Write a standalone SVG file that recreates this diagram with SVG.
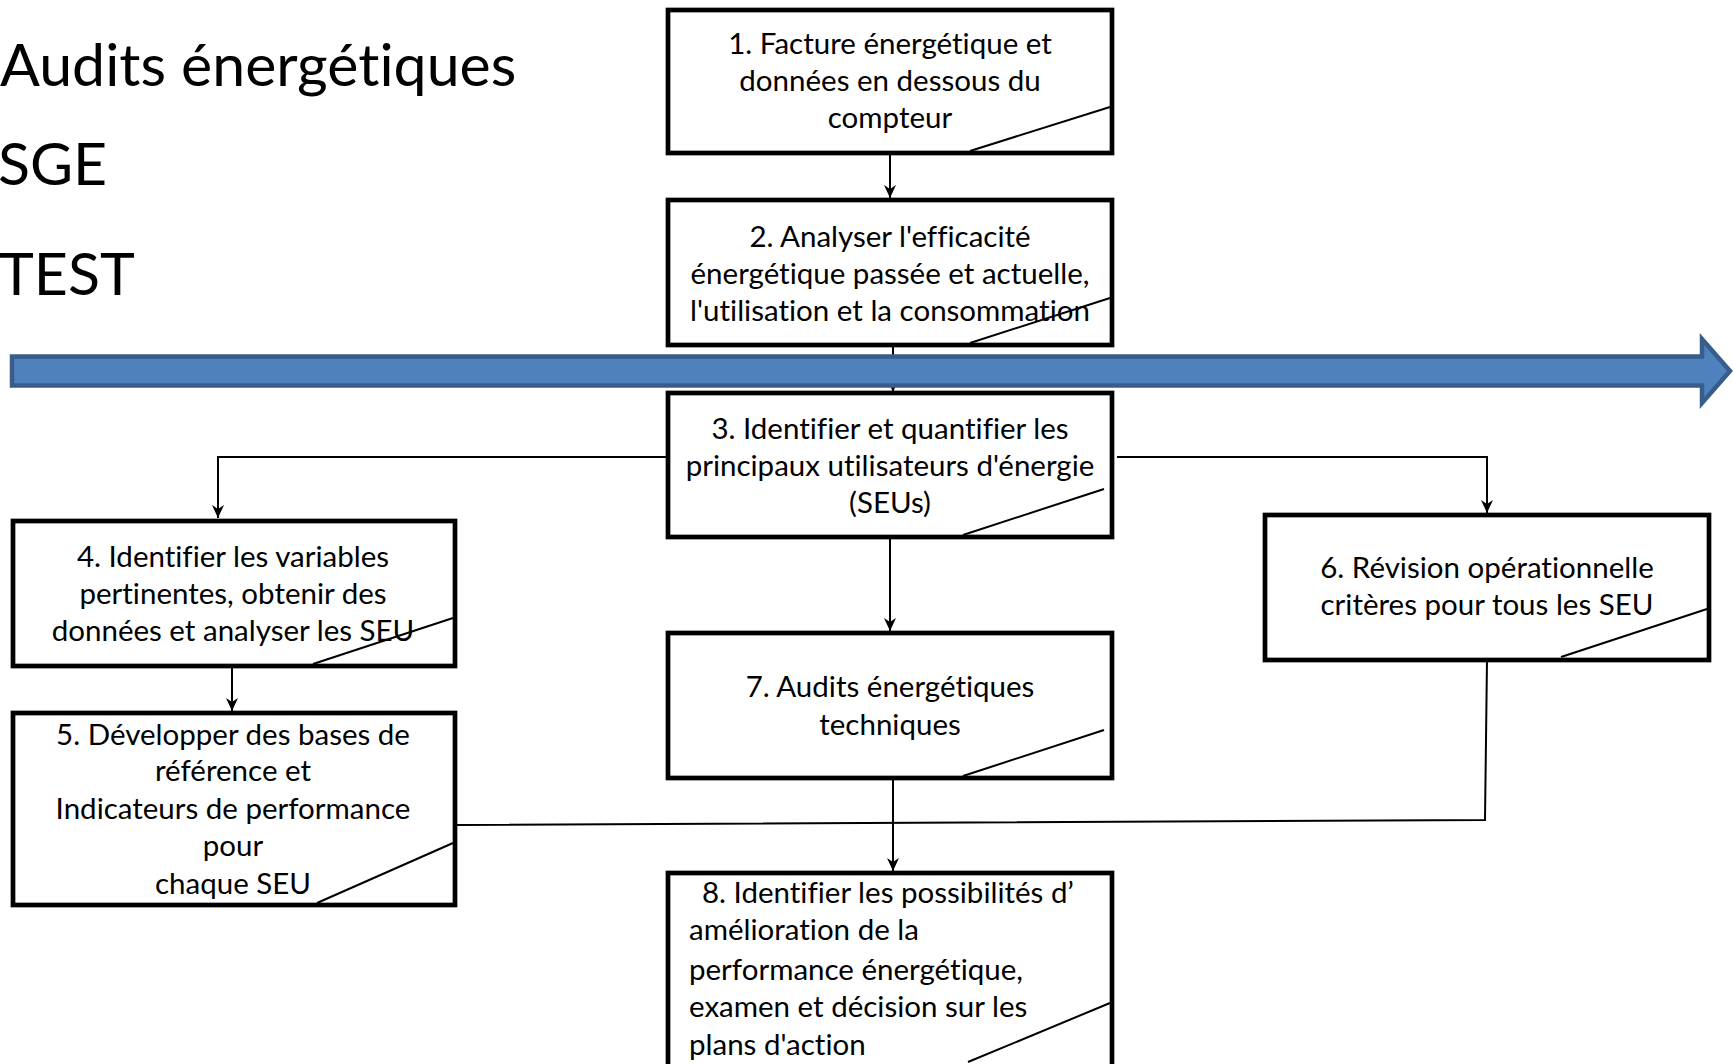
<svg xmlns="http://www.w3.org/2000/svg" width="1734" height="1064" viewBox="0 0 1734 1064">
<style>
  .box { fill: #ffffff; stroke: #000000; stroke-width: 4.7; }
  .diag { fill: none; stroke: #000000; stroke-width: 2; }
  .conn { fill: none; stroke: #000000; stroke-width: 2; }
  .t { font-family: Lato, "Liberation Sans", sans-serif; font-size: 29.5px; fill: #000000; font-variant-ligatures: none; }
  .c { text-anchor: middle; }
  .title { font-family: Lato, "Liberation Sans", sans-serif; font-size: 59px; fill: #000000; font-variant-ligatures: none; }
</style>
<defs>
  <marker id="arr" viewBox="-14 -7 15 14" refX="0" refY="0" markerWidth="15" markerHeight="14" markerUnits="userSpaceOnUse" orient="auto">
    <path d="M0,0 L-13,-6 L-9,0 L-13,6 Z" fill="#000000"/>
  </marker>
</defs>
<rect x="0" y="0" width="1734" height="1064" fill="#ffffff"/>

<g id="titles">
  <text class="title" x="0" y="86">Audits énergétiques</text>
  <text class="title" x="-2" y="185">SGE</text>
  <text class="title" x="-1" y="295">TEST</text>
</g>

<g id="connectors">
  <line class="conn" x1="890" y1="153" x2="890" y2="198" marker-end="url(#arr)"/>
  <line class="conn" x1="893" y1="345" x2="893" y2="392" marker-end="url(#arr)"/>
  <polyline class="conn" points="667,457 218,457 218,518" marker-end="url(#arr)"/>
  <polyline class="conn" points="1117,457 1487,457 1487,513" marker-end="url(#arr)"/>
  <line class="conn" x1="890" y1="537" x2="890" y2="631" marker-end="url(#arr)"/>
  <line class="conn" x1="232" y1="666" x2="232" y2="711" marker-end="url(#arr)"/>
  <line class="conn" x1="893" y1="778" x2="893" y2="871" marker-end="url(#arr)"/>
  <polyline class="conn" points="455,825 1485,820 1487,660"/>
</g>

<g id="timeline">
  <polygon points="12,356.5 1702,356.5 1702,339 1730,371 1702,403 1702,385.5 12,385.5" fill="#4f81bd" stroke="#385d8a" stroke-width="4.5" stroke-linejoin="miter"/>
</g>

<g id="node1">
  <rect class="box" x="668" y="10" width="444" height="143"/>
  <line class="diag" x1="970" y1="151" x2="1110" y2="107"/>
  <text class="t c" x="890" y="54">1. Facture énergétique et</text>
  <text class="t c" x="890" y="91">données en dessous du</text>
  <text class="t c" x="890" y="128">compteur</text>
</g>

<g id="node2">
  <rect class="box" x="668" y="200" width="444" height="145"/>
  <line class="diag" x1="970" y1="343" x2="1110" y2="298"/>
  <text class="t c" x="890" y="247">2. Analyser l'efficacité</text>
  <text class="t c" x="890" y="284">énergétique passée et actuelle,</text>
  <text class="t c" x="890" y="321">l'utilisation et la consommation</text>
</g>

<g id="node3">
  <rect class="box" x="668" y="393" width="444" height="144"/>
  <line class="diag" x1="963" y1="535" x2="1104" y2="489"/>
  <text class="t c" x="890" y="439">3. Identifier et quantifier les</text>
  <text class="t c" x="890" y="476">principaux utilisateurs d'énergie</text>
  <text class="t c" x="890" y="513">(SEUs)</text>
</g>

<g id="node4">
  <rect class="box" x="13" y="521" width="442" height="145"/>
  <line class="diag" x1="313" y1="664" x2="453" y2="618"/>
  <text class="t c" x="233" y="567">4. Identifier les variables</text>
  <text class="t c" x="233" y="604">pertinentes, obtenir des</text>
  <text class="t c" x="233" y="641">données et analyser les SEU</text>
</g>

<g id="node5">
  <rect class="box" x="13" y="713" width="442" height="192"/>
  <line class="diag" x1="317" y1="903" x2="453" y2="843"/>
  <text class="t c" x="233" y="745">5. Développer des bases de</text>
  <text class="t c" x="233" y="781">référence et</text>
  <text class="t c" x="233" y="819">Indicateurs de performance</text>
  <text class="t c" x="233" y="856">pour</text>
  <text class="t c" x="233" y="894">chaque SEU</text>
</g>

<g id="node6">
  <rect class="box" x="1265" y="515" width="444" height="145"/>
  <line class="diag" x1="1561" y1="657" x2="1707" y2="609"/>
  <text class="t c" x="1487" y="578">6. Révision opérationnelle</text>
  <text class="t c" x="1487" y="615">critères pour tous les SEU</text>
</g>

<g id="node7">
  <rect class="box" x="668" y="633" width="444" height="145"/>
  <line class="diag" x1="963" y1="776" x2="1104" y2="730"/>
  <text class="t c" x="890" y="697">7. Audits énergétiques</text>
  <text class="t c" x="890" y="735">techniques</text>
</g>

<g id="node8">
  <rect class="box" x="668" y="873" width="444" height="200"/>
  <line class="diag" x1="968" y1="1062" x2="1110" y2="1003"/>
  <text class="t" x="702" y="903">8. Identifier les possibilités d’</text>
  <text class="t" x="689" y="940">amélioration de la</text>
  <text class="t" x="689" y="980">performance énergétique,</text>
  <text class="t" x="689" y="1017">examen et décision sur les</text>
  <text class="t" x="689" y="1055">plans d'action</text>
</g>
</svg>
